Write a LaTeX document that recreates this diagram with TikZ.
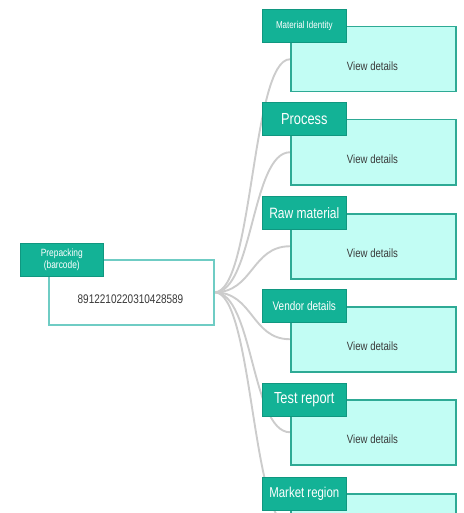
\documentclass[tikz,border=0pt]{standalone}
\usepackage{fontspec}
\setmainfont{Liberation Sans}[FakeStretch=0.8]
\definecolor{hdr}{HTML}{13B296}
\definecolor{boxfill}{HTML}{C2FDF4}
\definecolor{boxline}{HTML}{2EAA95}
\definecolor{rootline}{HTML}{6FCCC4}
\definecolor{link}{HTML}{CCCCCC}
\definecolor{txt}{HTML}{3A3A3A}
\tikzset{
  header/.style={fill=hdr, draw=hdr!85!black, line width=0.6pt, text=white, anchor=north west,
    minimum width=84pt, minimum height=33pt, inner sep=0pt, align=center},
  detail/.style={fill=boxfill, draw=boxline, line width=1.5pt, anchor=north west,
    minimum width=165pt, minimum height=65pt, inner sep=0pt},
  rootbox/.style={fill=white, draw=rootline, line width=1.6pt, anchor=north west,
    minimum width=165pt, minimum height=65pt, inner sep=0pt},
  linkline/.style={draw=link, line width=1.9pt},
  lbl/.style={text=txt, inner sep=0pt}
}
\begin{document}
\begin{tikzpicture}[x=1pt,y=-1pt]
\useasboundingbox (0,0) rectangle (463,513);
\clip (0,0) rectangle (463,513);
% root
\node[rootbox] (root) at (48,259) {};
% detail boxes
\node[detail] (d1) at (290,26) {};
\node[detail] (d2) at (290,119) {};
\node[detail] (d3) at (290,213) {};
\node[detail] (d4) at (290,306) {};
\node[detail] (d5) at (290,399) {};
\node[detail] (d6) at (290,493) {};
% connectors
\foreach \d in {d1,d2,d3,d4,d5,d6}{
  \draw[linkline] (root.east) .. controls ([xshift=38.5pt]root.east) and ([xshift=-38.5pt]\d.west) .. (\d.west);
}
% redraw boxes above connectors
\node[detail] at (290,26) {};
\node[detail] at (290,119) {};
\node[detail] at (290,213) {};
\node[detail] at (290,306) {};
\node[detail] at (290,399) {};
\node[detail] at (290,493) {};
\node[rootbox] at (48,259) {};
% texts in boxes
\node[lbl, font=\fontsize{12}{14}\selectfont] (t1) at (372.5,66) {View details};
\node[lbl, font=\fontsize{12}{14}\selectfont] (t2) at (372.5,159) {View details};
\node[lbl, font=\fontsize{12}{14}\selectfont] (t3) at (372.5,253) {View details};
\node[lbl, font=\fontsize{12}{14}\selectfont] (t4) at (372.5,346) {View details};
\node[lbl, font=\fontsize{12}{14}\selectfont] (t5) at (372.5,439) {View details};
\node[lbl, font=\fontsize{12.5}{14}\selectfont] (code) at (130.5,299) {8912210220310428589};
% headers
\node[header, font=\fontsize{10}{12}\selectfont] (h1) at (262,9) {Material Identity};
\node[header, font=\fontsize{16}{18}\selectfont] (h2) at (262,102) {Process};
\node[header, font=\fontsize{15}{17}\selectfont] (h3) at (262,196) {Raw material};
\node[header, font=\fontsize{12.5}{14}\selectfont] (h4) at (262,289) {Vendor details};
\node[header, font=\fontsize{16}{18}\selectfont] (h5) at (262,383) {Test report};
\node[header, font=\fontsize{14.3}{16}\selectfont] (h6) at (262,477) {Market region};
\node[header, minimum width=83pt, font=\fontsize{10.5}{12}\selectfont] (rh) at (20,243) {Prepacking\\(barcode)};
\end{tikzpicture}
\end{document}
